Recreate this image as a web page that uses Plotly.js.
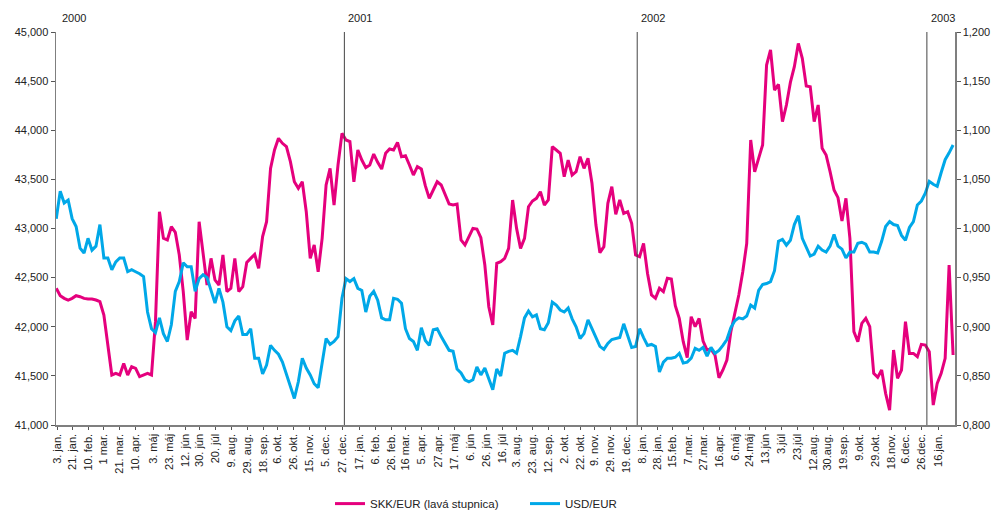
<!DOCTYPE html>
<html>
<head>
<meta charset="utf-8">
<script src="https://cdn.plot.ly/plotly-3.0.1.min.js"></script>
<style>html,body{margin:0;padding:0;background:#fff;}#chart{width:998px;height:530px;}</style>
</head>
<body>
<div id="chart"></div>
<script>
// Sampling grid of the readings (calendar days)
const sampleStart = '2000-01-01';
const sampleStepDays = 5;

// SKK/EUR (left scale), read every 5 days from the picture
const skkEur = [
42.391, 42.316, 42.289, 42.272, 42.289, 42.316, 42.306, 42.289, 42.282, 42.282,
42.272, 42.255, 42.119, 41.814, 41.509, 41.526, 41.509, 41.627, 41.509, 41.594,
41.577, 41.492, 41.509, 41.526, 41.509, 42.052, 43.171, 42.900, 42.883, 43.018,
42.961, 42.730, 42.357, 41.865, 42.153, 42.085, 43.069, 42.764, 42.425, 42.696,
42.476, 42.425, 42.730, 42.357, 42.391, 42.696, 42.357, 42.408, 42.655, 42.696,
42.737, 42.594, 42.917, 43.069, 43.612, 43.799, 43.918, 43.867, 43.833, 43.680,
43.476, 43.409, 43.476, 43.171, 42.696, 42.832, 42.560, 42.900, 43.443, 43.612,
43.239, 43.646, 43.968, 43.901, 43.884, 43.476, 43.799, 43.697, 43.619, 43.646,
43.758, 43.673, 43.605, 43.765, 43.809, 43.799, 43.877, 43.731, 43.741, 43.646,
43.544, 43.629, 43.605, 43.436, 43.307, 43.392, 43.476, 43.443, 43.341, 43.249,
43.239, 43.249, 42.883, 42.832, 42.917, 43.001, 42.995, 42.906, 42.628, 42.204,
42.018, 42.645, 42.662, 42.696, 42.798, 43.290, 43.001, 42.798, 42.900, 43.222,
43.280, 43.307, 43.375, 43.239, 43.290, 43.833, 43.799, 43.765, 43.527, 43.697,
43.544, 43.578, 43.731, 43.612, 43.714, 43.460, 43.035, 42.754, 42.815, 43.256,
43.426, 43.144, 43.290, 43.154, 43.171, 43.052, 42.730, 42.713, 42.849, 42.543,
42.323, 42.289, 42.391, 42.357, 42.493, 42.486, 42.214, 42.085, 41.848, 41.685,
42.102, 42.001, 42.085, 41.855, 41.763, 41.773, 41.712, 41.481, 41.560, 41.661,
41.950, 42.126, 42.323, 42.560, 42.849, 43.901, 43.578, 43.714, 43.850, 44.664,
44.817, 44.409, 44.467, 44.087, 44.257, 44.487, 44.647, 44.884, 44.732, 44.450,
44.443, 44.087, 44.257, 43.816, 43.748, 43.578, 43.392, 43.314, 43.076, 43.307,
42.900, 41.950, 41.848, 42.035, 42.085, 42.001, 41.526, 41.485, 41.560, 41.322,
41.152, 41.763, 41.475, 41.560, 42.052, 41.729, 41.729, 41.695, 41.821, 41.814,
41.746, 41.203, 41.424, 41.526, 41.678, 42.628, 41.712
];

// USD/EUR (right scale), same sampling
const usdEur = [
1.010, 1.038, 1.026, 1.029, 1.010, 1.002, 0.980, 0.975, 0.990, 0.978,
0.982, 1.004, 0.970, 0.970, 0.958, 0.966, 0.970, 0.970, 0.956, 0.958,
0.956, 0.954, 0.951, 0.915, 0.898, 0.894, 0.909, 0.893, 0.885, 0.902,
0.936, 0.946, 0.965, 0.961, 0.961, 0.936, 0.949, 0.953, 0.950, 0.936,
0.924, 0.939, 0.925, 0.900, 0.896, 0.906, 0.911, 0.892, 0.892, 0.898,
0.868, 0.868, 0.852, 0.861, 0.881, 0.876, 0.872, 0.864, 0.852, 0.839,
0.827, 0.844, 0.868, 0.858, 0.851, 0.842, 0.838, 0.863, 0.888, 0.882,
0.885, 0.890, 0.929, 0.949, 0.946, 0.949, 0.939, 0.937, 0.915, 0.931,
0.936, 0.927, 0.909, 0.907, 0.907, 0.929, 0.928, 0.924, 0.898, 0.888,
0.885, 0.876, 0.899, 0.886, 0.881, 0.897, 0.898, 0.890, 0.883, 0.876,
0.875, 0.857, 0.853, 0.846, 0.844, 0.846, 0.859, 0.851, 0.858, 0.847,
0.836, 0.857, 0.850, 0.873, 0.875, 0.876, 0.873, 0.890, 0.909, 0.916,
0.910, 0.912, 0.898, 0.897, 0.904, 0.925, 0.922, 0.917, 0.915, 0.919,
0.908, 0.900, 0.888, 0.893, 0.907, 0.898, 0.888, 0.880, 0.877, 0.883,
0.887, 0.888, 0.889, 0.903, 0.892, 0.879, 0.880, 0.898, 0.889, 0.881,
0.882, 0.880, 0.854, 0.864, 0.868, 0.868, 0.869, 0.873, 0.863, 0.864,
0.868, 0.878, 0.876, 0.879, 0.870, 0.879, 0.873, 0.876, 0.881, 0.887,
0.899, 0.906, 0.909, 0.908, 0.911, 0.922, 0.919, 0.937, 0.943, 0.944,
0.946, 0.957, 0.987, 0.989, 0.983, 0.988, 1.004, 1.013, 0.990, 0.981,
0.972, 0.974, 0.982, 0.978, 0.976, 0.982, 0.994, 0.982, 0.979, 0.970,
0.976, 0.976, 0.985, 0.986, 0.984, 0.976, 0.976, 0.975, 0.987, 1.002,
1.007, 1.004, 1.003, 0.993, 0.988, 1.001, 1.007, 1.024, 1.028, 1.036,
1.048, 1.045, 1.043, 1.057, 1.070, 1.077, 1.085
];

// X tick dates and labels
const tickDates = [
'2000-01-03','2000-01-21','2000-02-10','2000-03-01','2000-03-21','2000-04-10','2000-05-03','2000-05-23','2000-06-12','2000-06-30',
'2000-07-20','2000-08-09','2000-08-29','2000-09-18','2000-10-06','2000-10-26','2000-11-15','2000-12-05','2000-12-27',
'2001-01-17','2001-02-06','2001-02-26','2001-03-16','2001-04-05','2001-04-27','2001-05-17','2001-06-06','2001-06-26','2001-07-16',
'2001-08-03','2001-08-23','2001-09-12','2001-10-02','2001-10-22','2001-11-09','2001-11-29','2001-12-19',
'2002-01-08','2002-01-28','2002-02-15','2002-03-07','2002-03-27','2002-04-16','2002-05-06','2002-05-24','2002-06-13','2002-07-03',
'2002-07-23','2002-08-12','2002-08-30','2002-09-19','2002-10-09','2002-10-29','2002-11-18','2002-12-06','2002-12-26',
'2003-01-16'
];
const tickLabels = [
'3. jan.','21. jan.','10. feb.','1 mar.','21. mar.','10. apr.','3. máj','23. máj','12. jún','30. jún',
'20. júl','9. aug.','29. aug.','18. sep.','6. okt.','26. okt.','15. nov.','5. dec.','27. dec.',
'17. jan.','6. feb.','26. feb.','16 mar.','5. apr.','27.apr.','17. máj','6. jún','26. jún','16. júl',
'3. aug.','23. aug.','12. sep.','2. okt.','22. okt.','9. nov.','29. nov.','19. dec.',
'8. jan.','28. jan.','15.feb.','7.mar.','27.mar.','16.apr.','6.máj','24.máj','13.jún','3.júl',
'23.júl','12.aug.','30.aug.','19.sep.','9.okt.','29.okt.','18.nov.','6.dec.','26.dec.',
'16.jan.'
];

// Year separators and labels
const yearLabels = ['2000', '2001', '2002', '2003'];
const yearStarts = ['2000-01-03', '2000-12-29', '2002-01-02', '2003-01-02'];

const seriesNames = ['SKK/EUR (lavá stupnica)', 'USD/EUR'];
const colors = ['#E5007D', '#00A8E8'];

// Build sample dates
const t0 = Date.parse(sampleStart + 'T00:00:00Z');
const dates = skkEur.map((_, i) => new Date(t0 + i * sampleStepDays * 86400000).toISOString().slice(0, 10));

const traces = [
  {x: dates, y: skkEur, name: seriesNames[0], type: 'scatter', mode: 'lines',
   line: {color: colors[0], width: 3}, yaxis: 'y'},
  {x: dates, y: usdEur, name: seriesNames[1], type: 'scatter', mode: 'lines',
   line: {color: colors[1], width: 3}, yaxis: 'y2'}
];

const shapes = yearStarts.slice(1).map(d => ({
  type: 'line', xref: 'x', yref: 'paper', x0: d, x1: d, y0: 0, y1: 1,
  line: {color: '#444', width: 1}
}));
const annotations = yearLabels.map((t, i) => ({
  text: t, xref: 'x', yref: 'paper', x: yearStarts[i], y: 1,
  xanchor: 'left', yanchor: 'bottom', yshift: 6, xshift: 2, showarrow: false,
  font: {size: 11, color: '#222'}
}));

const axisCommon = {
  showgrid: false, zeroline: false, showline: true, linecolor: '#7f7f7f', linewidth: 1.5,
  ticks: 'outside', ticklen: 4, tickcolor: '#555', tickwidth: 1,
  tickfont: {size: 11, color: '#222'}
};

const layout = {
  width: 998, height: 530,
  margin: {l: 56, r: 43, t: 32, b: 105, pad: 0},
  separators: ',.',
  paper_bgcolor: '#fff', plot_bgcolor: '#fff',
  font: {family: '"Liberation Sans", Arial, sans-serif', size: 11, color: '#222'},
  showlegend: true,
  legend: {orientation: 'h', x: 0.3048, xanchor: 'left', y: -0.2, yanchor: 'middle',
           font: {size: 11.5, color: '#222'}, traceorder: 'normal',
           entrywidth: 150, entrywidthmode: 'pixels'},
  xaxis: Object.assign({}, axisCommon, {
    type: 'date', range: ['1999-12-31 16:00', '2003-02-06 10:00'],
    tickmode: 'array', tickvals: tickDates, ticktext: tickLabels, tickangle: -90, ticklen: 3
  }),
  yaxis: Object.assign({}, axisCommon, {
    range: [41, 45], tick0: 41, dtick: 0.5, tickformat: '.3f'
  }),
  yaxis2: Object.assign({}, axisCommon, {
    overlaying: 'y', side: 'right', range: [0.8, 1.2], tick0: 0.8, dtick: 0.05, tickformat: '.3f'
  }),
  shapes: shapes,
  annotations: annotations
};

Plotly.newPlot('chart', traces, layout, {staticPlot: true, displayModeBar: false});
</script>
</body>
</html>
